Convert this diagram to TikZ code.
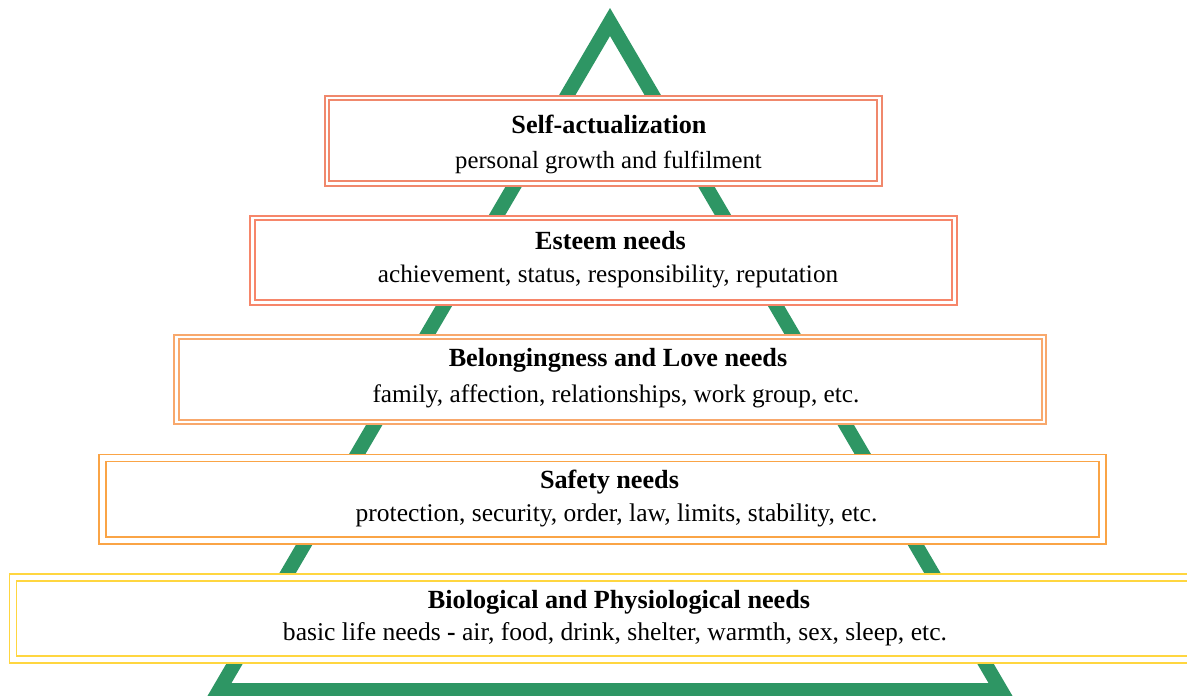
\documentclass[tikz,border=0pt]{standalone}
\usepackage{fontspec}
\setmainfont{Liberation Serif}
\definecolor{pyramidgreen}{RGB}{46,150,100}
\definecolor{tierone}{RGB}{240,136,108}
\definecolor{tiertwo}{RGB}{246,134,106}
\definecolor{tierthree}{RGB}{248,168,108}
\definecolor{tierfour}{RGB}{250,164,70}
\definecolor{tierfive}{RGB}{255,214,64}
\tikzset{
  tier/.style={rectangle, fill=white, double=white, line width=1.8pt,
    double distance=2.7pt, inner sep=0pt, outer sep=0pt},
  widetier/.style={tier, double distance=5.2pt},
  title/.style={anchor=base, inner sep=0pt, font=\fontsize{26.2}{30}\selectfont\bfseries},
  detail/.style={anchor=base, inner sep=0pt, font=\fontsize{#1}{30}\selectfont},
  detail/.default=24.7,
}
\begin{document}
\begin{tikzpicture}[x=1pt,y=-1pt]
\useasboundingbox (0,0) rectangle (1187,696);
\clip (0,0) rectangle (1187,696);
\fill[white] (0,0) rectangle (1187,696);

% the pyramid outline behind the tiers
\fill[pyramidgreen, even odd rule]
  (610,8) -- (206.3,698) -- (1013.7,698) -- cycle
  (610,36) -- (231.5,683) -- (988.5,683) -- cycle;

% tiers, top to bottom
\node[tier, draw=tierone, minimum width=552.5pt, minimum height=85.5pt]
  (self) at (603.25,140.75) {};
\node[tier, draw=tiertwo, minimum width=702pt, minimum height=84.5pt]
  (esteem) at (603.5,260.25) {};
\node[tier, draw=tierthree, minimum width=867.5pt, minimum height=85pt]
  (love) at (610.25,379.5) {};
\node[widetier, draw=tierfour, minimum width=1000pt, minimum height=82.5pt]
  (safety) at (602.5,499.25) {};
\node[widetier, draw=tierfive, minimum width=1197pt, minimum height=82pt]
  (bio) at (611.5,618.5) {};

% tier labels
\node[title]  (selft) at (609,133.5) {Self-actualization};
\node[detail] (selfd) at (608.5,168) {personal growth and fulfilment};

\node[title]  (esteemt) at (610.5,249) {Esteem needs};
\node[detail=25.2] (esteemd) at (608,282) {achievement, status, responsibility, reputation};

\node[title]  (lovet) at (618,366) {Belongingness and Love needs};
\node[detail=25.3] (loved) at (616,402) {family, affection, relationships, work group, etc.};

\node[title]  (safetyt) at (609.5,488.5) {Safety needs};
\node[detail=25.5] (safetyd) at (616.5,521.5) {protection, security, order, law, limits, stability, etc.};

\node[title]  (biot) at (619,608) {Biological and Physiological needs};
\node[detail=25.6] (biod) at (615,640.5) {basic life needs {\bfseries -} air, food, drink, shelter, warmth, sex, sleep, etc.};
\end{tikzpicture}
\end{document}
